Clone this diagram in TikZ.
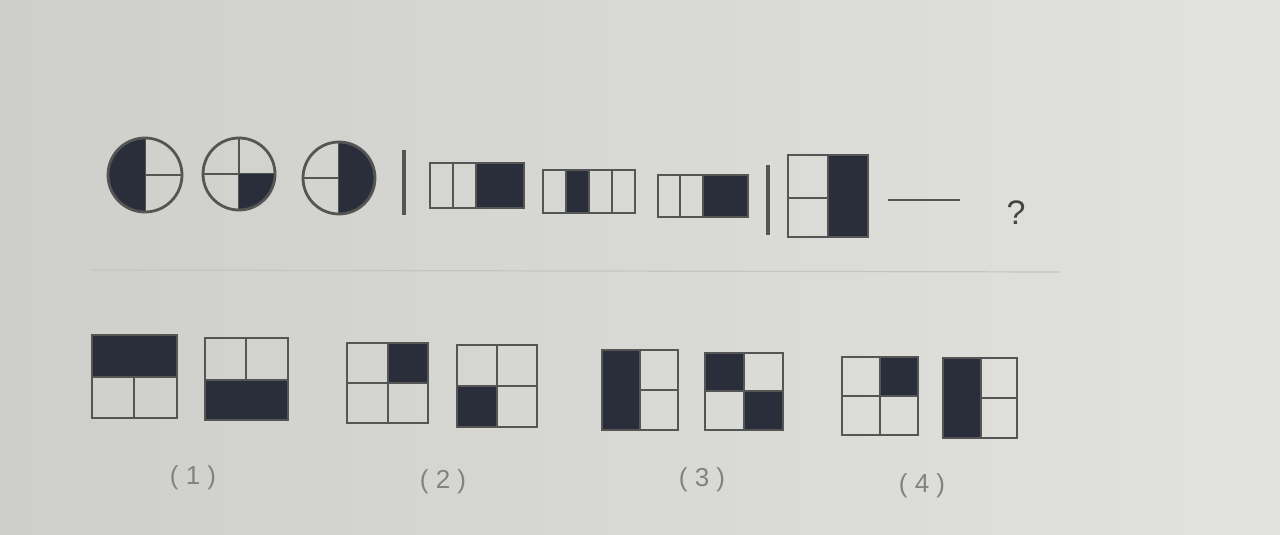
\documentclass[tikz,border=0pt]{standalone}
\usepackage{fontspec}
\setsansfont{Liberation Sans}
\definecolor{bgL}{RGB}{206,206,202}
\definecolor{bgR}{RGB}{226,226,222}
\definecolor{lineC}{RGB}{85,85,85}
\definecolor{fillC}{RGB}{42,46,58}
\definecolor{labC}{RGB}{130,130,130}
\definecolor{ruleC}{RGB}{196,196,192}
\begin{document}
\begin{tikzpicture}[x=0.5pt,y=-0.5pt,
  fig/.style={draw=lineC,line width=1.4pt},
  blk/.style={fill=fillC},
  bar/.style={draw=lineC,line width=1.8pt},
  lab/.style={text=labC,font=\sffamily\fontsize{13}{15}\selectfont,inner sep=0pt},
  qm/.style={text=lineC!80!black,font=\sffamily\fontsize{17}{19}\selectfont,inner sep=0pt}]
\shade[left color=bgL,right color=bgR] (0,0) rectangle (1280,535);
\useasboundingbox (0,0) rectangle (1280,535);
\draw[ruleC,line width=0.6pt] (90,270) -- (1060,272);
% circles
\draw[fig] (145,138) -- (145,212) (145,175) -- (182,175);
\fill[blk] (145,138) arc[start angle=-90,end angle=-270,radius=37] -- cycle;
\draw[fig] (145,175) circle[radius=37];
\draw[fig] (239,138) -- (239,210) (203,174) -- (275,174);
\fill[blk] (239,174) -- (275,174) arc[start angle=0,end angle=90,radius=36] -- cycle;
\draw[fig] (239,174) circle[radius=36];
\draw[fig] (339,142) -- (339,214) (303,178) -- (339,178);
\fill[blk] (339,142) arc[start angle=-90,end angle=90,radius=36] -- cycle;
\draw[fig] (339,178) circle[radius=36];
% bars
\draw[bar] (404,150) -- (404,215);
\draw[bar] (768,165) -- (768,235);
% row rectangles
\fill[blk] (476,163) rectangle (524,208);
\draw[fig] (430,163) rectangle (524,208);
\draw[fig] (453,163) -- (453,208) (476,163) -- (476,208);
\fill[blk] (566,170) rectangle (589,213);
\draw[fig] (543,170) rectangle (635,213);
\draw[fig] (566,170) -- (566,213) (589,170) -- (589,213) (612,170) -- (612,213);
\fill[blk] (703,175) rectangle (748,217);
\draw[fig] (658,175) rectangle (748,217);
\draw[fig] (680,175) -- (680,217) (703,175) -- (703,217);
% square in question
\fill[blk] (828,155) rectangle (868,237);
\draw[fig] (788,155) rectangle (868,237);
\draw[fig] (828,155) -- (828,237) (788,198) -- (828,198);
\draw[fig] (888,200) -- (960,200);
\node[qm] (q) at (1016,213) {?};
% options
% A
\fill[blk] (92,335) rectangle (177,377);
\draw[fig] (92,335) rectangle (177,418);
\draw[fig] (92,377) -- (177,377) (134,377) -- (134,418);
% B
\fill[blk] (205,380) rectangle (288,420);
\draw[fig] (205,338) rectangle (288,420);
\draw[fig] (205,380) -- (288,380) (246,338) -- (246,380);
% C
\fill[blk] (388,343) rectangle (428,383);
\draw[fig] (347,343) rectangle (428,423);
\draw[fig] (388,343) -- (388,423) (347,383) -- (428,383);
% D
\fill[blk] (457,386) rectangle (497,427);
\draw[fig] (457,345) rectangle (537,427);
\draw[fig] (497,345) -- (497,427) (457,386) -- (537,386);
% E
\fill[blk] (602,350) rectangle (640,430);
\draw[fig] (602,350) rectangle (678,430);
\draw[fig] (640,350) -- (640,430) (640,390) -- (678,390);
% F
\fill[blk] (705,353) rectangle (744,391);
\fill[blk] (744,391) rectangle (783,430);
\draw[fig] (705,353) rectangle (783,430);
\draw[fig] (744,353) -- (744,430) (705,391) -- (783,391);
% G
\fill[blk] (880,357) rectangle (918,396);
\draw[fig] (842,357) rectangle (918,435);
\draw[fig] (880,357) -- (880,435) (842,396) -- (918,396);
% H
\fill[blk] (943,358) rectangle (981,438);
\draw[fig] (943,358) rectangle (1017,438);
\draw[fig] (981,358) -- (981,438) (981,398) -- (1017,398);
% labels
\node[lab] (l1) at (193,478) {( 1 )};
\node[lab] (l2) at (443,482) {( 2 )};
\node[lab] (l3) at (702,480) {( 3 )};
\node[lab] (l4) at (922,486) {( 4 )};
\end{tikzpicture}
\end{document}
